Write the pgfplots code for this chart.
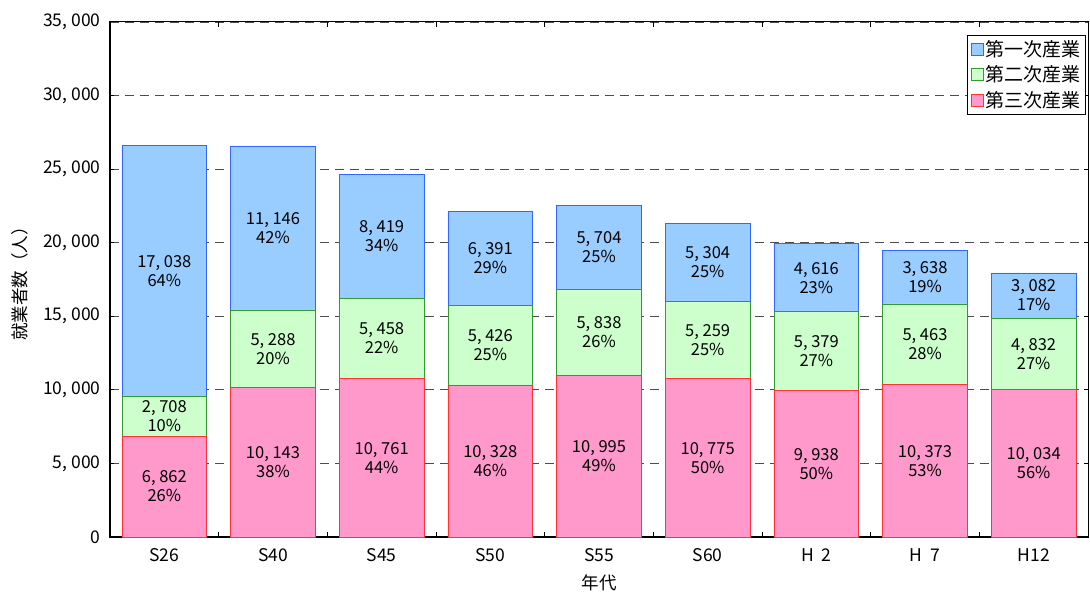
\documentclass[border=0pt]{standalone}
\usepackage{pgfplots}
\pgfplotsset{compat=1.18}
\usepackage{fontspec}
\setmainfont{Noto Sans CJK JP}
\definecolor{bluef}{HTML}{99CCFF}
\definecolor{blued}{HTML}{3366FF}
\definecolor{greenf}{HTML}{CCFFCC}
\definecolor{greend}{HTML}{339933}
\definecolor{pinkf}{HTML}{FF99CC}
\definecolor{pinkd}{HTML}{FF3333}
\pgfplotsset{
  base/.style={
    scale only axis, width=978pt, height=515pt,
    xmin=-0.5, xmax=8.5, ymin=0, ymax=35000,
  }
}
\begin{document}
\begin{tikzpicture}[font=\fontsize{17.5}{20}\selectfont]
\begin{axis}[base,
  ybar stacked, bar width=0.78,
  scaled y ticks=false,
  axis line style={line width=1pt},
  xtick={0,...,8},
  xticklabels={S26,S40,S45,S50,S55,S60,H\ \ 2,H\ \ 7,H12},
  major x tick style={draw=none},
  minor xtick={0.5,1.5,...,7.5},
  minor tick length=5pt,
  ytick={0,5000,...,35000},
  yticklabels={0,{5, 000},{10, 000},{15, 000},{20, 000},{25, 000},{30, 000},{35, 000}},
  major tick length=4pt,
  tick style={black, line width=1pt},
  ymajorgrids,
  grid style={black!70, dash pattern=on 9pt off 6pt, line width=0.8pt},
  xticklabel style={yshift=-8pt},
  yticklabel style={xshift=-6pt},
  xlabel={年代},
  xlabel style={yshift=-6pt},
  ylabel={就業者数（人）},
  ylabel style={yshift=8pt},
  reverse legend,
  legend style={at={(rel axis cs:0.998,0.975)}, anchor=north east,
    draw=black, line width=0.8pt, inner xsep=3pt, inner ysep=3pt, row sep=4pt,
    font=\fontsize{19}{21}\selectfont},
  legend cell align=left,
  legend image code/.code={\draw[#1, line width=0.8pt] (0pt,-6pt) rectangle (12pt,6pt);},
]
\addplot[fill=pinkf, draw=pinkd, line width=0.8pt] coordinates {
 (0,6862) (1,10143) (2,10761) (3,10328) (4,10995) (5,10775) (6,9938) (7,10373) (8,10034)};
\addlegendentry{第三次産業}
\addplot[fill=greenf, draw=greend, line width=0.8pt] coordinates {
 (0,2708) (1,5288) (2,5458) (3,5426) (4,5838) (5,5259) (6,5379) (7,5463) (8,4832)};
\addlegendentry{第二次産業}
\addplot[fill=bluef, draw=blued, line width=0.8pt] coordinates {
 (0,17038) (1,11146) (2,8419) (3,6391) (4,5704) (5,5304) (6,4616) (7,3638) (8,3082)};
\addlegendentry{第一次産業}
\draw[line width=2pt] (rel axis cs:0,1) -- (rel axis cs:0,0) -- (rel axis cs:1,0);
\coordinate (bl) at (rel axis cs:0,0);
\coordinate (tr) at (rel axis cs:1,1);
\end{axis}
\begin{axis}[base, hide axis,
  nodes near coords, point meta=explicit symbolic,
  nodes near coords style={align=center, anchor=center, font=\fontsize{16.5}{19}\selectfont, text=black},
]
\addplot[draw=none, mark=none] coordinates {
 (0,3431) [{6, 862\\26\%}]
 (1,5071.5) [{10, 143\\38\%}]
 (2,5380.5) [{10, 761\\44\%}]
 (3,5164) [{10, 328\\46\%}]
 (4,5497.5) [{10, 995\\49\%}]
 (5,5387.5) [{10, 775\\50\%}]
 (6,4969) [{9, 938\\50\%}]
 (7,5186.5) [{10, 373\\53\%}]
 (8,5017) [{10, 034\\56\%}]
};
\addplot[draw=none, mark=none] coordinates {
 (0,8216) [{2, 708\\10\%}]
 (1,12787) [{5, 288\\20\%}]
 (2,13490) [{5, 458\\22\%}]
 (3,13041) [{5, 426\\25\%}]
 (4,13914) [{5, 838\\26\%}]
 (5,13404.5) [{5, 259\\25\%}]
 (6,12627.5) [{5, 379\\27\%}]
 (7,13104.5) [{5, 463\\28\%}]
 (8,12450) [{4, 832\\27\%}]
};
\addplot[draw=none, mark=none] coordinates {
 (0,18089) [{17, 038\\64\%}]
 (1,21004) [{11, 146\\42\%}]
 (2,20428.5) [{8, 419\\34\%}]
 (3,18949.5) [{6, 391\\29\%}]
 (4,19685) [{5, 704\\25\%}]
 (5,18686) [{5, 304\\25\%}]
 (6,17625) [{4, 616\\23\%}]
 (7,17655) [{3, 638\\19\%}]
 (8,16407) [{3, 082\\17\%}]
};
\end{axis}
\path ([shift={(-110pt,-62pt)}]bl) rectangle ([shift={(2pt,22pt)}]tr);
\end{tikzpicture}
\end{document}
